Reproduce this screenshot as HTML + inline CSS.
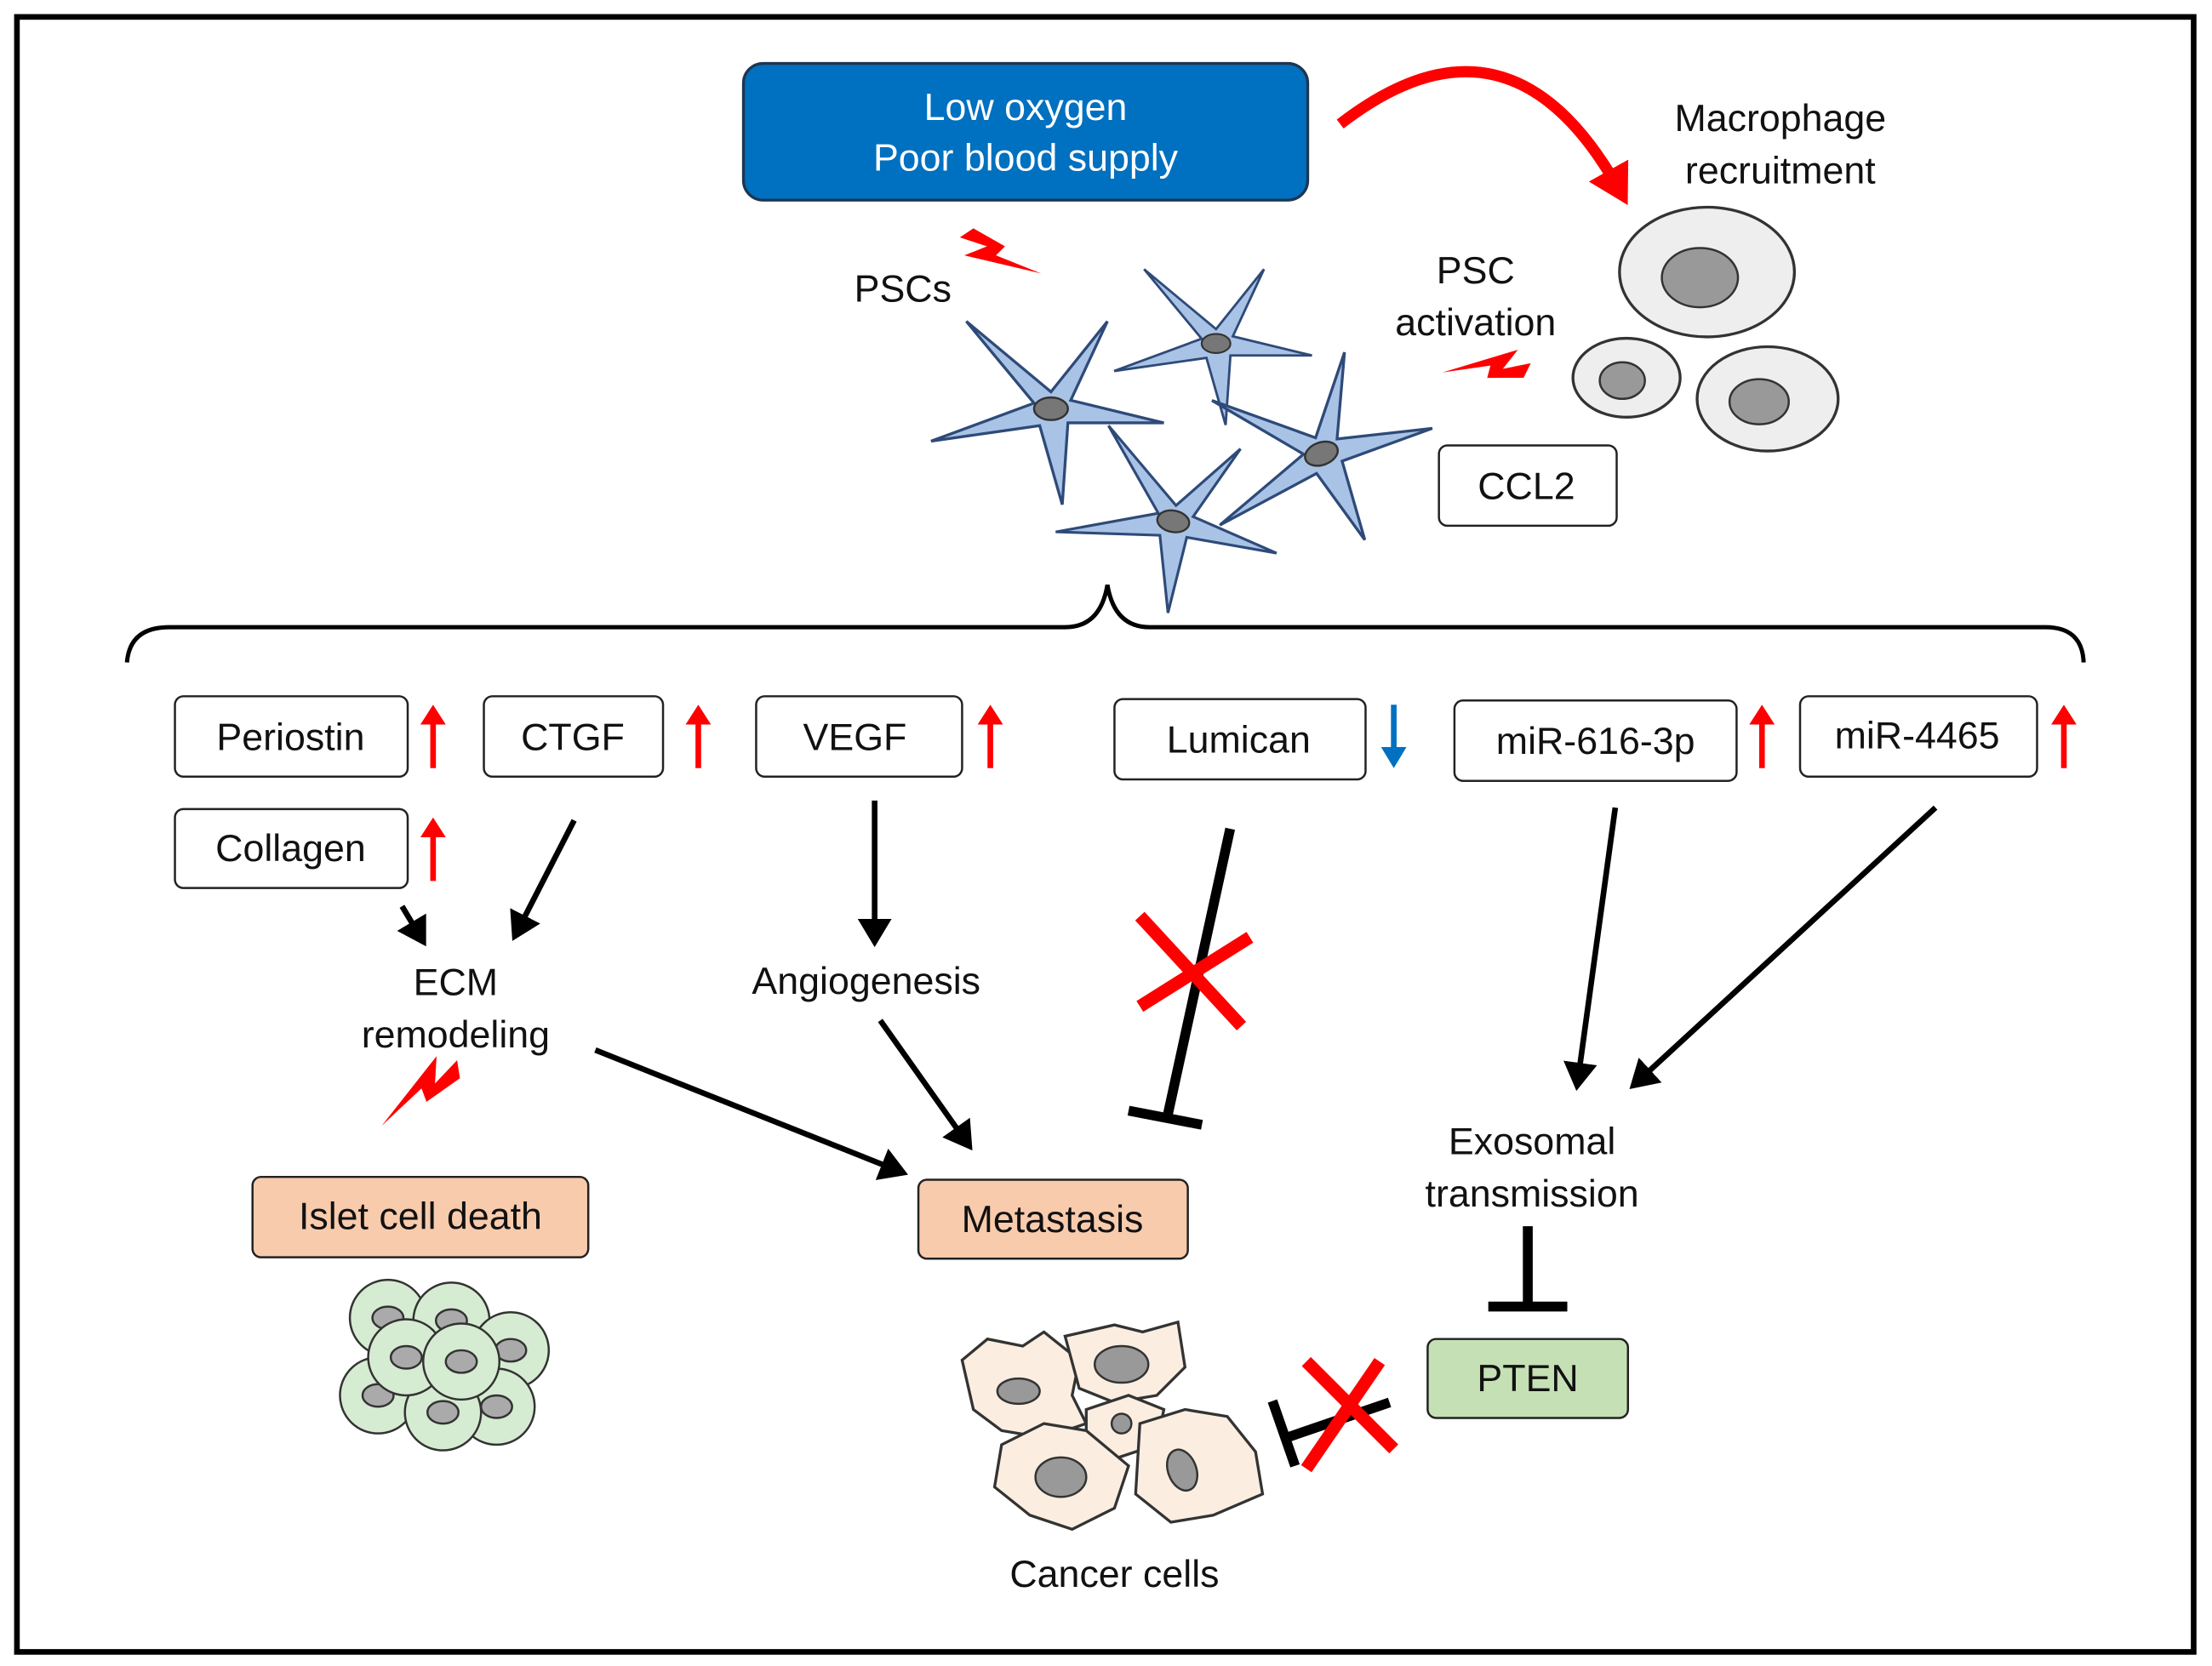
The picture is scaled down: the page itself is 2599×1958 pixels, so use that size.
<!DOCTYPE html>
<html><head><meta charset="utf-8"><style>
html,body{margin:0;padding:0;background:#fff}
svg{display:block}
text{font-family:"Liberation Sans",Arial,sans-serif;font-size:27px;fill:#111;text-anchor:middle}
</style></head><body>
<svg width="2599" height="1958" viewBox="0 0 1568 1182" preserveAspectRatio="none" xmlns="http://www.w3.org/2000/svg">
<defs>
<marker id="ah" markerWidth="6" markerHeight="6" refX="4" refY="3" orient="auto" markerUnits="strokeWidth"><path d="M0,0 L5,3 L0,6 z" fill="#000"/></marker>
<marker id="rh" markerWidth="4" markerHeight="4" refX="2" refY="2" orient="auto" markerUnits="strokeWidth"><path d="M0,0 L3.5,2 L0,4 z" fill="#f00"/></marker>
<g id="star"><path d="M0,-10 L40,-60 L14,-4 L80,12 L12,12 L8,70 L-8,14 L-85,25 L-12,-2 L-60,-60 Z" fill="#a9c3e6" stroke="#2e4a78" stroke-width="2"/><ellipse cx="0" cy="2" rx="12" ry="8" fill="#777" stroke="#333" stroke-width="1.5"/></g>
<g id="bolt"><path d="M0,0 L14,8 L10,12 L30,20 L-4,12 L6,8 L-6,4 Z" fill="#f00"/></g>
<g id="up"><line x1="0" y1="45" x2="0" y2="10" stroke="#f00" stroke-width="4"/><path d="M-9,14 L0,0 L9,14 Z" fill="#f00"/></g>
<g id="cell"><circle r="27" fill="#d6ecd2" stroke="#333" stroke-width="1.5"/><ellipse rx="11" ry="8" fill="#aaa" stroke="#333" stroke-width="1.5"/></g>
</defs>
<rect x="12" y="12" width="1543" height="1160" fill="#fff" stroke="#000" stroke-width="4"/>
<rect x="527" y="45" width="400" height="97" rx="14" fill="#0070c0" stroke="#1f3550" stroke-width="2"/>
<text x="727" y="85" style="fill:#fff">Low oxygen</text>
<text x="727" y="121" style="fill:#fff">Poor blood supply</text>
<path d="M950,88 Q1070,-5 1148,135" fill="none" stroke="#f00" stroke-width="8" marker-end="url(#rh)"/>
<text x="1262" y="93">Macrophage</text><text x="1262" y="130">recruitment</text>
<ellipse cx="1210" cy="193" rx="62" ry="46" fill="#eee" stroke="#333" stroke-width="2"/><ellipse cx="1205" cy="197" rx="27" ry="21" fill="#999" stroke="#333" stroke-width="1.5"/>
<ellipse cx="1153" cy="268" rx="38" ry="28" fill="#eee" stroke="#333" stroke-width="2"/><ellipse cx="1150" cy="270" rx="16" ry="13" fill="#999" stroke="#333" stroke-width="1.5"/>
<ellipse cx="1253" cy="283" rx="50" ry="37" fill="#eee" stroke="#333" stroke-width="2"/><ellipse cx="1247" cy="285" rx="21" ry="16" fill="#999" stroke="#333" stroke-width="1.5"/>
<text x="640" y="214">PSCs</text><text x="1046" y="201">PSC</text><text x="1046" y="238">activation</text>
<use href="#bolt" transform="translate(690,162) scale(1.6)"/>
<use href="#bolt" transform="translate(1080,268) scale(1.6) rotate(150)"/>
<use href="#star" x="745" y="288"/>
<use href="#star" transform="translate(862,242) scale(0.85)"/>
<use href="#star" transform="translate(936,320) rotate(-20)"/>
<use href="#star" transform="translate(832,368) rotate(10) scale(0.95)"/>
<rect x="1020" y="316" width="126" height="57" rx="6" fill="#fff" stroke="#222" stroke-width="1.5"/><text x="1082" y="354">CCL2</text>
<path d="M90,470 Q92,445 120,445 L755,445 Q780,445 785,415 Q790,445 815,445 L1450,445 Q1476,445 1477,470" fill="none" stroke="#000" stroke-width="3"/>
<g fill="#fff" stroke="#222" stroke-width="1.5">
<rect x="124" y="494" width="165" height="57" rx="6"/><rect x="343" y="494" width="127" height="57" rx="6"/>
<rect x="536" y="494" width="146" height="57" rx="6"/><rect x="790" y="496" width="178" height="57" rx="6"/>
<rect x="1031" y="497" width="200" height="57" rx="6"/><rect x="1276" y="494" width="168" height="57" rx="6"/>
<rect x="124" y="574" width="165" height="56" rx="6"/></g>
<text x="206" y="532">Periostin</text><text x="406" y="532">CTGF</text><text x="606" y="532">VEGF</text>
<text x="878" y="534">Lumican</text><text x="1131" y="535">miR-616-3p</text><text x="1359" y="531">miR-4465</text>
<text x="206" y="611">Collagen</text>
<use href="#up" x="307" y="500"/><use href="#up" x="495" y="500"/><use href="#up" x="702" y="500"/>
<use href="#up" x="1249" y="500"/><use href="#up" x="1463" y="500"/><use href="#up" x="307" y="580"/>
<line x1="988" y1="500" x2="988" y2="532" stroke="#0070c0" stroke-width="4"/><path d="M979,530 L988,545 L997,530Z" fill="#0070c0"/>
<g stroke="#000" stroke-width="4" fill="none">
<line x1="285" y1="643" x2="300" y2="668" marker-end="url(#ah)"/>
<line x1="407" y1="582" x2="365" y2="664" marker-end="url(#ah)"/>
<line x1="620" y1="568" x2="620" y2="668" marker-end="url(#ah)"/>
<line x1="422" y1="745" x2="640" y2="832" marker-end="url(#ah)"/>
<line x1="624" y1="724" x2="687" y2="813" marker-end="url(#ah)"/>
<line x1="1145" y1="573" x2="1118" y2="770" marker-end="url(#ah)"/>
<line x1="1372" y1="573" x2="1158" y2="770" marker-end="url(#ah)"/>
</g>
<g stroke="#000" stroke-width="7"><line x1="872" y1="588" x2="828" y2="790"/><line x1="800" y1="788" x2="852" y2="798"/>
<line x1="1083" y1="870" x2="1083" y2="926"/><line x1="1055" y1="927" x2="1111" y2="927"/>
<line x1="985" y1="995" x2="912" y2="1020"/><line x1="902" y1="994" x2="918" y2="1040"/></g>
<g stroke="#f00" stroke-width="9"><line x1="808" y1="650" x2="880" y2="728"/><line x1="808" y1="714" x2="886" y2="665"/>
<line x1="926" y1="966" x2="988" y2="1028"/><line x1="926" y1="1042" x2="978" y2="966"/></g>
<text x="323" y="706">ECM</text><text x="323" y="743">remodeling</text><text x="614" y="705">Angiogenesis</text>
<text x="1086" y="819">Exosomal</text><text x="1086" y="856">transmission</text>
<use href="#bolt" transform="translate(326,765) scale(1.8) rotate(115)"/>
<rect x="179" y="835" width="238" height="57" rx="6" fill="#f8cbad" stroke="#222" stroke-width="1.5"/><text x="298" y="872">Islet cell death</text>
<rect x="651" y="837" width="191" height="56" rx="6" fill="#f8cbad" stroke="#222" stroke-width="1.5"/><text x="746" y="874">Metastasis</text>
<rect x="1012" y="950" width="142" height="56" rx="6" fill="#c5e0b4" stroke="#222" stroke-width="1.5"/><text x="1083" y="987">PTEN</text>
<use href="#cell" x="275" y="935"/><use href="#cell" x="320" y="937"/><use href="#cell" x="362" y="958"/>
<use href="#cell" x="268" y="990"/><use href="#cell" x="352" y="998"/><use href="#cell" x="314" y="1002"/>
<use href="#cell" x="288" y="963"/><use href="#cell" x="327" y="966"/>
<g fill="#fbeee0" stroke="#333" stroke-width="2">
<path d="M682,965 L700,950 L725,955 L740,945 L765,965 L760,990 L770,1010 L740,1020 L710,1015 L690,1000 Z"/>
<path d="M755,948 L790,940 L810,945 L835,938 L840,970 L820,990 L790,995 L765,985 Z"/>
<path d="M770,1000 L800,990 L825,1000 L820,1025 L790,1035 L770,1020 Z"/>
<path d="M710,1025 L740,1010 L770,1015 L800,1040 L790,1070 L760,1085 L730,1075 L705,1055 Z"/>
<path d="M808,1010 L840,1000 L870,1005 L890,1030 L895,1060 L860,1075 L830,1080 L805,1060 Z"/>
</g>
<g fill="#999" stroke="#333" stroke-width="1.5">
<ellipse cx="722" cy="987" rx="15" ry="9"/><ellipse cx="795" cy="968" rx="19" ry="13"/><ellipse cx="795" cy="1010" rx="7" ry="7"/>
<ellipse cx="752" cy="1048" rx="18" ry="14"/><ellipse cx="838" cy="1043" rx="10" ry="15" transform="rotate(-20 838 1043)"/></g>
<text x="790" y="1126">Cancer cells</text>
</svg>
</body></html>
